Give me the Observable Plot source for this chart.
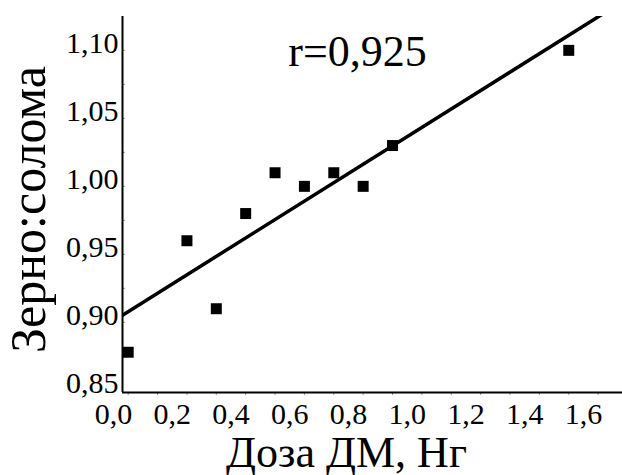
<!DOCTYPE html>
<html>
<head>
<meta charset="utf-8">
<script src="https://cdn.jsdelivr.net/npm/d3@7"></script>
<script src="https://cdn.jsdelivr.net/npm/@observablehq/plot@0.6"></script>
<style>
  html, body { margin: 0; padding: 0; background: #fff; }
  svg { overflow: visible; }
  svg, svg text { font-family: "Liberation Serif", "Times New Roman", serif !important; }
</style>
</head>
<body>
<div id="chart"></div>
<script>
// Data
const doses  = [0.05, 0.25, 0.35, 0.45, 0.55, 0.65, 0.75, 0.85, 0.95, 1.55];
const ratios = [0.873, 0.955, 0.905, 0.975, 1.005, 0.995, 1.005, 0.995, 1.025, 1.095];
const rLabel = "r=0,925";
const xTitle = "Доза ДМ, Нг";
const yTitle = "Зерно:солома";

// Tick labels and minor tick marks
const xTickLabels = [0, 0.2, 0.4, 0.6, 0.8, 1.0, 1.2, 1.4, 1.6];
const yTickLabels = [0.85, 0.90, 0.95, 1.00, 1.05, 1.10];
const xTickMarks = [0.05, 0.15, 0.25, 0.35, 0.45, 0.55, 0.65, 0.75, 0.85, 0.95, 1.05, 1.15, 1.25, 1.35, 1.45, 1.55, 1.65];
const yTickMarks = [0.87, 0.895, 0.92, 0.945, 0.97, 0.995, 1.02, 1.045, 1.07, 1.095];

const xDomain = [0.0306, 1.733];
const yDomain = [0.8434, 1.1199];

const pts = doses.map((x, i) => ({x, y: ratios[i]}));

// least-squares fit computed from data
const mx = d3.mean(doses), my = d3.mean(ratios);
const slope = d3.sum(pts, d => (d.x - mx) * (d.y - my)) / d3.sum(pts, d => (d.x - mx) ** 2);
const intercept = my - slope * mx;
const fit = xDomain.map(x => ({x, y: intercept + slope * x}));

const fmtX = d => d.toFixed(1).replace(".", ",");
const fmtY = d => d.toFixed(2).replace(".", ",");

const font = '"Liberation Serif", "Times New Roman", serif';

const chart = Plot.plot({
  width: 622,
  height: 475,
  marginLeft: 122,
  marginRight: 0,
  marginTop: 16,
  marginBottom: 83,
  style: {fontFamily: font, background: "#fff", color: "#000"},
  x: {domain: xDomain},
  y: {domain: yDomain},
  marks: [
    Plot.axisX(xTickMarks, {tickSize: 3, text: null, stroke: "#999", label: null}),
    Plot.axisY(yTickMarks, {tickSize: -3, text: null, stroke: "#999", label: null}),
    Plot.axisX(xTickLabels, {tickSize: 0, tickPadding: 10, tickFormat: fmtX, fontSize: 30, fontFamily: font, label: null}),
    Plot.axisY(yTickLabels, {tickSize: 0, tickPadding: 4, tickFormat: fmtY, fontSize: 30, fontFamily: font, label: null}),
    Plot.ruleX([xDomain[0]], {stroke: "#000", strokeWidth: 2}),
    Plot.ruleY([yDomain[0]], {stroke: "#000", strokeWidth: 2}),
    Plot.line(fit, {x: "x", y: "y", stroke: "#000", strokeWidth: 3.5, clip: true}),
    Plot.dot(pts, {x: "x", y: "y", symbol: "square", r: 6.2, fill: "#000", stroke: "none"}),
    Plot.text([rLabel], {frameAnchor: "top", dx: -15, dy: 49, lineAnchor: "bottom", fontSize: 44, fontFamily: font, fill: "#000", text: d => d}),
    Plot.text([xTitle], {frameAnchor: "bottom", dx: -26, dy: 74, lineAnchor: "bottom", fontSize: 44, fontFamily: font, fill: "#000", text: d => d}),
    Plot.text([yTitle], {frameAnchor: "left", dx: -78, dy: 5, rotate: -90, textAnchor: "middle", lineAnchor: "bottom", fontSize: 50, fontFamily: font, fill: "#000", text: d => d})
  ]
});
document.getElementById("chart").appendChild(chart);
</script>
</body>
</html>
